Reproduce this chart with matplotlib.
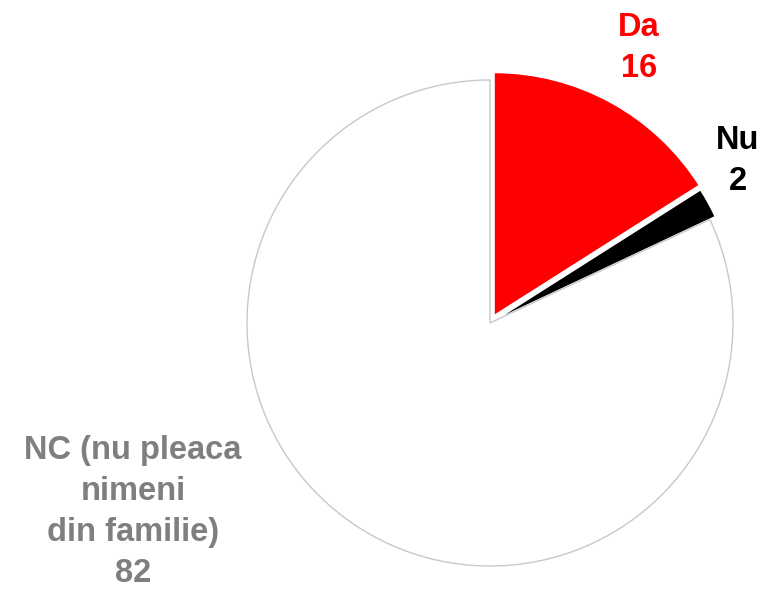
import matplotlib.pyplot as plt

# Raspunsuri: pleaca cineva din familie la munca in strainatate?
labels = ['Da', 'Nu', 'NC (nu pleaca\nnimeni\ndin familie)']
values = [16, 2, 82]
colors = ['#ff0000', '#000000', '#ffffff']
edges = ['#ffffff', '#ffffff', '#c8c8c8']
explode = [0.035, 0.025, 0.0]
label_colors = ['#ff0000', '#000000', '#7f7f7f']

W, H = 765, 589
cx, cy, r = 490, 323, 243


def px(x, y):
    # pixel (from top-left) -> unitati de date, raza placintei = 1
    return (x - cx) / r, (cy - y) / r


fig = plt.figure(figsize=(W / 100, H / 100), dpi=100)
ax = fig.add_axes([0, 0, 1, 1])

wedges, _ = ax.pie(values, colors=colors, explode=explode, startangle=90,
                   counterclock=False, radius=1.0, frame=True)
for w, ec in zip(wedges, edges):
    w.set_edgecolor(ec)
    w.set_linewidth(1.0)
ax.axis('off')
ax.set_xlim(-cx / r, (W - cx) / r)
ax.set_ylim(-(H - cy) / r, cy / r)

font = dict(family=['Liberation Sans', 'DejaVu Sans'], weight='bold', fontsize=23.5,
            ha='center', va='center', linespacing=1.43)
positions = [px(639, 48), px(738, 161), px(133, 512)]
for lab, val, (x, y), c in zip(labels, values, positions, label_colors):
    ax.text(x, y, f'{lab}\n{val}', color=c, **font)

fig.savefig('out.png', dpi=100)
